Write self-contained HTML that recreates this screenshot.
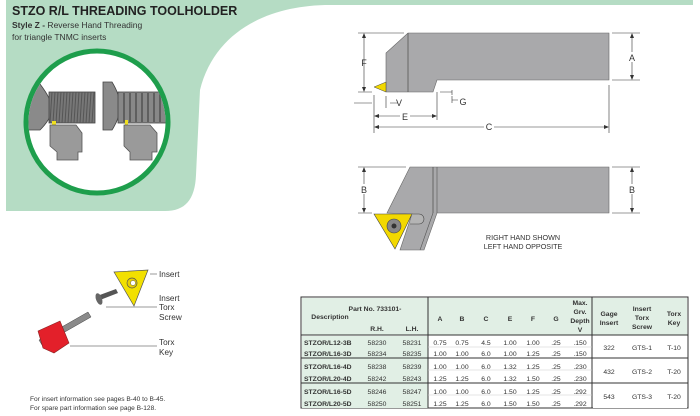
<!DOCTYPE html>
<html><head><meta charset="utf-8"><style>
html,body{margin:0;padding:0;background:#fff;}
svg{display:block;font-family:"Liberation Sans",sans-serif;}
</style></head><body>
<svg width="700" height="416" viewBox="0 0 700 416" xmlns="http://www.w3.org/2000/svg">
<!-- green background -->
<path d="M6,0 L693,0 L693,5 L330,5 C270,5 215,30 200,90 L196,175 C195,200 185,211 165,211 L6,211 Z" fill="#b5dcc4"/>
<text x="12" y="15" font-size="12.5" font-weight="bold" fill="#222">STZO R/L THREADING TOOLHOLDER</text>
<text x="12" y="28" font-size="8.5" fill="#333"><tspan font-weight="bold">Style Z -</tspan> Reverse Hand Threading</text>
<text x="12" y="40" font-size="8.5" fill="#333">for triangle TNMC inserts</text>
<!-- circle -->
<circle cx="97" cy="122" r="71" fill="#fff" stroke="#1e9e4c" stroke-width="5"/>
<clipPath id="cc"><circle cx="97" cy="122" r="68.5"/></clipPath>
<g clip-path="url(#cc)">
<path d="M28,84 L40,84 Q52,100 52,108 Q52,118 40,130 L28,130 Z" fill="#8a8a8a" stroke="#444" stroke-width="0.8"/>
<rect x="49" y="92" width="46" height="31" fill="#777" stroke="#444" stroke-width="0.8"/>
<g stroke="#555" stroke-width="1">
<path d="M52,92 l-2,31 M55,92 l-2,31 M58,92 l-2,31 M61,92 l-2,31 M64,92 l-2,31 M67,92 l-2,31 M70,92 l-2,31 M73,92 l-2,31 M76,92 l-2,31 M79,92 l-2,31 M82,92 l-2,31 M85,92 l-2,31 M88,92 l-2,31 M91,92 l-2,31 M94,92 l-2,31"/>
</g>
<path d="M103,82 L112,82 Q120,95 120,106 Q120,118 112,130 L103,130 Z" fill="#8a8a8a" stroke="#444" stroke-width="0.8"/>
<rect x="118" y="92" width="48" height="31" fill="#888" stroke="#444" stroke-width="0.8"/>
<g stroke="#555" stroke-width="1.6">
<path d="M124,93 v29 M130,93 v29 M136,93 v29 M142,93 v29 M148,93 v29 M154,93 v29 M160,93 v29"/>
</g>
<rect x="52" y="121" width="4" height="4" fill="#f0e020"/>
<rect x="125" y="120" width="3" height="5" fill="#f0e020"/>
<path d="M50,125 L76,125 L82,133 L82,152 L78,152 L78,160 L57,160 L57,152 L50,146 Z" fill="#9a9a9a" stroke="#555" stroke-width="0.8"/>
<path d="M124,125 L150,125 L157,133 L157,152 L152,152 L152,160 L130,160 L130,152 L124,146 Z" fill="#9a9a9a" stroke="#555" stroke-width="0.8"/>
</g>
<!-- top view tool -->
<path d="M408,33 L609,33 L609,80 L437,80 L433,92 L386,92 L386,53 Z" fill="#a9a9ab" stroke="#666" stroke-width="0.6"/>
<line x1="408" y1="33" x2="408" y2="92" stroke="#555" stroke-width="0.8"/>
<path d="M374,87 L386,82 L386,92 Z" fill="#f2d800" stroke="#444" stroke-width="0.5"/>
<g stroke="#333" stroke-width="0.6" fill="none">
<path d="M358,33 H404 M358,92 H372 M364,35 V90 M612,33 H640 M612,80 H640 M632,35 V78 M374,95 V133 M437,92 V120 M609,85 V133 M375,116 H436 M375,127 H608 M354,103 H372 M386,96 V108 M390,103 H398 M440,92 H452 M452,90 V95 M452,100 H458 M452,96 V103"/>
</g>
<g fill="#333">
<path d="M364,33 l-2,5 h4Z M364,92 l-2,-5 h4Z M632,33 l-2,5 h4Z M632,80 l-2,-5 h4Z M374,116 l5,-2 v4Z M437,116 l-5,-2 v4Z M374,127 l5,-2 v4Z M609,127 l-5,-2 v4Z"/>
</g>
<g font-size="9" fill="#333" text-anchor="middle">
<text x="364" y="66" fill="#333">F</text>
<rect x="627" y="52" width="10" height="10" fill="#fff"/><text x="632" y="61">A</text>
<rect x="400" y="111" width="10" height="10" fill="#fff"/><text x="405" y="120">E</text>
<rect x="484" y="122" width="10" height="10" fill="#fff"/><text x="489" y="130">C</text>
<text x="399" y="106">V</text>
<text x="463" y="105">G</text>
</g>
<!-- bottom view -->
<path d="M410,167 L609,167 L609,213 L437,213 L424,250 L400,250 L412,214 L387,213 Z" fill="#a9a9ab" stroke="#666" stroke-width="0.6"/>
<line x1="433" y1="167" x2="433" y2="213" stroke="#555" stroke-width="0.8"/>
<line x1="437" y1="167" x2="437" y2="213" stroke="#555" stroke-width="0.6"/>
<path d="M433,213 L420,250" stroke="#555" stroke-width="0.6"/>
<path d="M374,214 L412,214 L395,249 Z" fill="#f2d800" stroke="#444" stroke-width="0.6"/>
<path d="M412,214 h7 a5,5 0 0 1 0,10 h-9" fill="#b4b4b4" stroke="#444" stroke-width="0.6"/>
<circle cx="394" cy="226" r="7" fill="#888" stroke="#444" stroke-width="0.6"/>
<circle cx="394" cy="226" r="2.5" fill="#333"/>
<g stroke="#333" stroke-width="0.6" fill="none">
<path d="M358,167 H406 M358,213 H372 M364,169 V211 M612,167 H640 M612,213 H640 M632,169 V211"/>
</g>
<g fill="#333"><path d="M364,167 l-2,5 h4Z M364,213 l-2,-5 h4Z M632,167 l-2,5 h4Z M632,213 l-2,-5 h4Z"/></g>
<g font-size="9" fill="#333" text-anchor="middle">
<rect x="359" y="184" width="10" height="10" fill="#fff"/><text x="364" y="193">B</text>
<rect x="627" y="184" width="10" height="10" fill="#fff"/><text x="632" y="193">B</text>
</g>
<text x="523" y="240" font-size="7.2" fill="#333" text-anchor="middle">RIGHT HAND SHOWN</text>
<text x="523" y="249" font-size="7.2" fill="#333" text-anchor="middle">LEFT HAND OPPOSITE</text>
<!-- insert/screw/key -->
<path d="M114,272 L148,270 L134,306 Z" fill="#f2e000" stroke="#555" stroke-width="0.7"/>
<circle cx="132" cy="283" r="5" fill="#e8d000" stroke="#555" stroke-width="0.7"/>
<circle cx="133" cy="283" r="2.5" fill="#fff" stroke="#555" stroke-width="0.5"/>
<path d="M97,296 L116,289 L118,293 L100,300 Z" fill="#555"/>
<ellipse cx="99" cy="299" rx="3" ry="6" fill="#666" transform="rotate(-20 99 299)"/>
<path d="M39,340 L88,312 L91,317 L42,345 Z" fill="#8a8a8a" stroke="#444" stroke-width="0.5"/>
<path d="M38,331 L60,321 L69,343 L54,353 L43,348 Z" fill="#e3202a" stroke="#822" stroke-width="0.6"/>
<g stroke="#333" stroke-width="0.6">
<path d="M150,274 H157 M106,307 H157 M70,346 H157"/>
</g>
<g font-size="8.2" fill="#333">
<text x="159" y="277">Insert</text>
<text x="159" y="301">Insert</text>
<text x="159" y="310">Torx</text>
<text x="159" y="320">Screw</text>
<text x="159" y="345">Torx</text>
<text x="159" y="355">Key</text>
</g>
<text x="30" y="401" font-size="6.6" fill="#333">For insert information see pages B-40 to B-45.</text>
<text x="30" y="410" font-size="6.6" fill="#333">For spare part information see page B-128.</text>
<!-- table -->
<rect x="301" y="297" width="387" height="111" fill="#fff" stroke="#333" stroke-width="1"/>
<rect x="302" y="298" width="385" height="37" fill="#e1efe5"/>
<rect x="302" y="336" width="126" height="72" fill="#e1efe5"/>
<rect x="593" y="336" width="94" height="72" fill="#fff"/>
<g stroke="#333" stroke-width="1">
<path d="M301,335 H688 M301,358 H688 M301,383 H688 M428,297 V408 M592,297 V408"/>
</g>
<g stroke="#ccc" stroke-width="0.6"><path d="M428,347 H592 M428,370 H592 M428,395 H592"/></g>
<g font-size="6.8" font-weight="bold" fill="#333" text-anchor="middle">
<text x="330" y="319">Description</text>
<text x="375" y="311">Part No. 733101-</text>
<text x="377" y="331">R.H.</text>
<text x="412" y="331">L.H.</text>
<text x="440" y="321">A</text><text x="462" y="321">B</text><text x="486" y="321">C</text>
<text x="510" y="321">E</text><text x="533" y="321">F</text><text x="556" y="321">G</text>
<text x="580" y="305">Max.</text><text x="580" y="314">Grv.</text><text x="580" y="323">Depth</text><text x="580" y="332">V</text>
<text x="609" y="316">Gage</text><text x="609" y="325">Insert</text>
<text x="642" y="311">Insert</text><text x="642" y="320">Torx</text><text x="642" y="329">Screw</text>
<text x="674" y="316">Torx</text><text x="674" y="325">Key</text>
</g>
<g font-size="6.8" fill="#333">
<g font-weight="bold">
<text x="304" y="345">STZOR/L12-3B</text><text x="304" y="356">STZOR/L16-3D</text>
<text x="304" y="369">STZOR/L16-4D</text><text x="304" y="381">STZOR/L20-4D</text>
<text x="304" y="394">STZOR/L16-5D</text><text x="304" y="406">STZOR/L20-5D</text>
</g>
<g text-anchor="middle">
<text x="377" y="345">58230</text><text x="412" y="345">58231</text>
<text x="377" y="356">58234</text><text x="412" y="356">58235</text>
<text x="377" y="369">58238</text><text x="412" y="369">58239</text>
<text x="377" y="381">58242</text><text x="412" y="381">58243</text>
<text x="377" y="394">58246</text><text x="412" y="394">58247</text>
<text x="377" y="406">58250</text><text x="412" y="406">58251</text>
<text x="440" y="345">0.75</text><text x="462" y="345">0.75</text><text x="486" y="345">4.5</text><text x="510" y="345">1.00</text><text x="533" y="345">1.00</text><text x="556" y="345">.25</text><text x="580" y="345">.150</text>
<text x="440" y="356">1.00</text><text x="462" y="356">1.00</text><text x="486" y="356">6.0</text><text x="510" y="356">1.00</text><text x="533" y="356">1.25</text><text x="556" y="356">.25</text><text x="580" y="356">.150</text>
<text x="440" y="369">1.00</text><text x="462" y="369">1.00</text><text x="486" y="369">6.0</text><text x="510" y="369">1.32</text><text x="533" y="369">1.25</text><text x="556" y="369">.25</text><text x="580" y="369">.230</text>
<text x="440" y="381">1.25</text><text x="462" y="381">1.25</text><text x="486" y="381">6.0</text><text x="510" y="381">1.32</text><text x="533" y="381">1.50</text><text x="556" y="381">.25</text><text x="580" y="381">.230</text>
<text x="440" y="394">1.00</text><text x="462" y="394">1.00</text><text x="486" y="394">6.0</text><text x="510" y="394">1.50</text><text x="533" y="394">1.25</text><text x="556" y="394">.25</text><text x="580" y="394">.292</text>
<text x="440" y="406">1.25</text><text x="462" y="406">1.25</text><text x="486" y="406">6.0</text><text x="510" y="406">1.50</text><text x="533" y="406">1.50</text><text x="556" y="406">.25</text><text x="580" y="406">.292</text>
<text x="609" y="350">322</text><text x="642" y="350">GTS-1</text><text x="674" y="350">T-10</text>
<text x="609" y="374">432</text><text x="642" y="374">GTS-2</text><text x="674" y="374">T-20</text>
<text x="609" y="399">543</text><text x="642" y="399">GTS-3</text><text x="674" y="399">T-20</text>
</g>
</g>
</svg>
</body></html>
